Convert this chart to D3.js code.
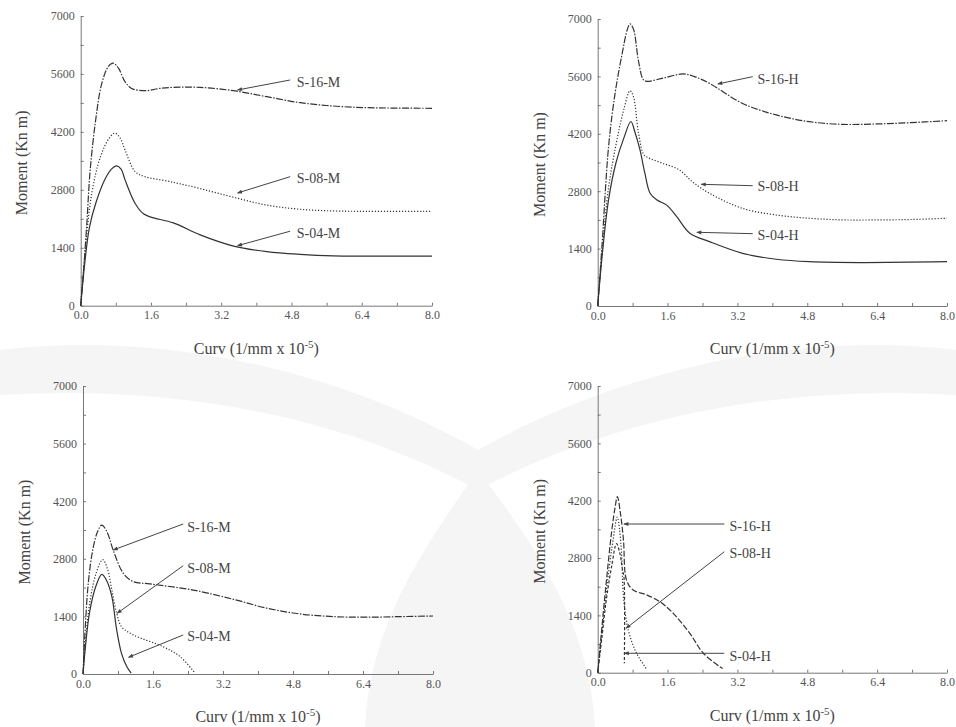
<!DOCTYPE html>
<html>
<head>
<meta charset="utf-8">
<script src="https://cdn.jsdelivr.net/npm/d3@7"></script>
<style>
  body { margin: 0; background: #fff; }
  svg { display: block; font-family: "Liberation Serif", "Times New Roman", serif; }
  .domain, .tick line { stroke: #777; }
</style>
</head>
<body>
<div id="chart"></div>
<script>
// axis ticks
const yTicks = [0, 1400, 2800, 4200, 5600, 7000];
const xTicks = [0, 1.6, 3.2, 4.8, 6.4, 8.0];

// top-left: medium, full range
const s16M_a = [[0,0],[0.06,780],[0.14,1990],[0.21,3200],[0.33,4400],[0.48,5370],[0.63,5780],[0.74,5860],[0.86,5740],[1.01,5410],[1.16,5250],[1.46,5195],[1.8,5250],[2.11,5275],[2.72,5275],[3.48,5195],[4.24,5050],[5.0,4905],[5.75,4825],[6.5,4785],[7.2,4775],[8.0,4770]];
const s08M_a = [[0,0],[0.1,1300],[0.25,2700],[0.45,3600],[0.65,4050],[0.78,4170],[0.9,4050],[1.01,3760],[1.24,3240],[1.46,3120],[2.03,3000],[2.72,2830],[3.48,2620],[4.24,2430],[5.0,2330],[5.75,2290],[6.5,2280],[8.0,2280]];
const s04M_a = [[0,0],[0.1,1100],[0.2,1900],[0.35,2500],[0.55,3050],[0.7,3300],[0.82,3380],[0.92,3300],[1.01,3040],[1.24,2470],[1.43,2220],[1.6,2140],[2.11,2000],[2.72,1710],[3.48,1440],[4.24,1305],[5.0,1240],[5.75,1205],[6.5,1200],[8.0,1200]];

// top-right: high, full range
const s16H_a = [[0,0],[0.1,1500],[0.25,3900],[0.4,5200],[0.55,6100],[0.68,6750],[0.74,6880],[0.82,6750],[0.93,6000],[1.04,5530],[1.12,5480],[1.5,5560],[1.95,5660],[2.2,5600],[2.56,5430],[3.32,4940],[4.09,4660],[4.85,4495],[5.61,4430],[6.38,4440],[7.14,4470],[8.0,4520]];
const s08H_a = [[0,0],[0.1,1300],[0.25,2900],[0.45,4100],[0.6,4800],[0.74,5250],[0.82,5100],[0.93,4250],[1.05,3700],[1.15,3620],[1.49,3480],[1.87,3320],[2.17,3030],[2.56,2750],[3.32,2380],[4.09,2220],[4.85,2140],[5.61,2100],[6.4,2100],[7.2,2110],[8.0,2140]];
const s04H_a = [[0,0],[0.1,1200],[0.25,2600],[0.42,3500],[0.6,4100],[0.76,4500],[0.85,4250],[0.97,3800],[1.08,3240],[1.2,2750],[1.35,2590],[1.58,2460],[1.81,2180],[2.11,1775],[2.56,1570],[3.32,1285],[4.09,1140],[4.85,1080],[6.0,1060],[8.0,1080]];

// bottom-left: medium, reduced
const s16M_b = [[0,0],[0.05,1100],[0.12,2200],[0.22,3000],[0.33,3450],[0.43,3620],[0.55,3450],[0.69,3010],[0.92,2450],[1.15,2245],[1.53,2190],[2.52,2040],[3.44,1815],[4.2,1600],[4.96,1460],[5.72,1395],[6.48,1380],[7.25,1395],[8.0,1410]];
const s08M_b = [[0,0],[0.05,700],[0.15,1700],[0.3,2450],[0.45,2780],[0.56,2550],[0.66,2040],[0.77,1475],[0.88,1150],[1.15,950],[1.84,660],[2.22,420],[2.54,50]];
const s04M_b = [[0,0],[0.05,600],[0.15,1500],[0.3,2150],[0.43,2420],[0.55,2250],[0.66,1880],[0.77,1070],[0.88,500],[1.0,180],[1.1,20]];

// bottom-right: high, reduced
const s16H_b = [[0,0],[0.1,1150],[0.2,2250],[0.32,3450],[0.4,4050],[0.45,4300],[0.52,3900],[0.59,3240],[0.66,2260],[0.81,2020],[1.12,1900],[1.43,1730],[1.73,1450],[2.11,960],[2.42,475],[2.86,100]];
const s08H_b = [[0,0],[0.1,1000],[0.2,2000],[0.32,3000],[0.45,3800],[0.5,3500],[0.55,2830],[0.59,1860],[0.7,1040],[0.89,475],[1.08,150],[1.11,100]];
const s04H_b = [[0,0],[0.1,900],[0.2,1800],[0.32,2600],[0.43,3150],[0.5,2950],[0.57,2500],[0.6,2350],[0.61,230]];

// label text anchor [x, M] and arrow from/to in data units
const labelsTL = [["S-16-M",[4.92,5412],[4.77,5454],[3.57,5212]],["S-08-M",[4.92,3078],[4.77,3118],[3.57,2723]],["S-04-M",[4.92,1757],[4.77,1800],[3.57,1450]]];
const labelsTR = [["S-16-H",[3.66,5529],[3.55,5593],[2.75,5415]],["S-08-H",[3.66,2927],[3.55,2934],[2.37,2968]],["S-04-H",[3.66,1732],[3.55,1764],[2.27,1798]]];
const labelsBL = [["S-16-M",[2.38,3580],[2.29,3646],[0.69,3014]],["S-08-M",[2.38,2576],[2.29,2632],[0.78,1475]],["S-04-M",[2.38,924],[2.29,948],[1.04,406]]];
const labelsBR = [["S-16-H",[3.02,3589],[2.9,3630],[0.6,3630]],["S-08-H",[3.02,2922],[2.9,2954],[0.65,1084]],["S-04-H",[3.02,415],[2.9,474],[0.61,474]]];

const W = 956, H = 727;
const FONT = "Liberation Serif, Times New Roman, serif";
const svg = d3.select("#chart").append("svg").attr("width", W).attr("height", H);

// faint background watermark
const wm = svg.append("g").attr("fill", "#f5f5f5");
wm.append("path").attr("d", "M0,350 C160,330 340,370 478,450 C620,370 800,330 956,350 L956,395 C800,385 630,410 478,490 C330,410 160,385 0,395 Z");
wm.append("path").attr("d", "M478,470 C430,540 370,620 365,727 L595,727 C590,620 530,540 478,470 Z");

svg.append("defs").append("marker")
  .attr("id", "arr").attr("viewBox", "0 0 10 10")
  .attr("refX", 9).attr("refY", 5)
  .attr("markerWidth", 7).attr("markerHeight", 5)
  .attr("orient", "auto")
  .append("path").attr("d", "M0,1 L10,5 L0,9 Z").attr("fill", "#444");

function panel(box, series, dashes, labels) {
  const x = d3.scaleLinear().domain([0, 8]).range([box.x0, box.x1]);
  const y = d3.scaleLinear().domain([0, 7000]).range([box.y1, box.y0]);
  const g = svg.append("g");

  const yMinor = d3.range(0, 7001, 700);
  g.append("g")
    .attr("transform", `translate(${box.x0},0)`)
    .call(d3.axisLeft(y).tickValues(yMinor).tickSize(-3).tickSizeOuter(0).tickPadding(6)
      .tickFormat(d => yTicks.includes(d) ? d : ""))
    .attr("font-family", FONT).attr("font-size", 12)
    .selectAll("text").attr("fill", "#555");

  const xMinor = d3.range(0, 11).map(i => i * 0.8);
  g.append("g")
    .attr("transform", `translate(0,${box.y1})`)
    .call(d3.axisBottom(x).tickValues(xMinor).tickSize(-3).tickSizeOuter(0).tickPadding(5)
      .tickFormat(d => xTicks.some(t => Math.abs(t - d) < 1e-6) ? d3.format(".1f")(d) : ""))
    .attr("font-family", FONT).attr("font-size", 12)
    .selectAll("text").attr("fill", "#555");

  const smooth = d3.line().x(d => x(d[0])).y(d => y(d[1])).curve(d3.curveCatmullRom.alpha(0.5));
  series.forEach((s, i) => {
    g.append("path").datum(s)
      .attr("d", smooth)
      .attr("fill", "none")
      .attr("stroke", "#333")
      .attr("stroke-width", 1.2)
      .attr("stroke-dasharray", dashes[i]);
  });

  labels.forEach(l => {
    g.append("line")
      .attr("x1", x(l[2][0])).attr("y1", y(l[2][1]))
      .attr("x2", x(l[3][0])).attr("y2", y(l[3][1]))
      .attr("stroke", "#444").attr("stroke-width", 1)
      .attr("marker-end", "url(#arr)");
    g.append("text")
      .attr("x", x(l[1][0])).attr("y", y(l[1][1]))
      .attr("dy", "0.35em")
      .attr("font-size", 14).attr("fill", "#444")
      .text(l[0]);
  });

  g.append("text")
    .attr("transform", `translate(${box.yt},${(box.y0 + box.y1) / 2 + 2}) rotate(-90)`)
    .attr("text-anchor", "middle").attr("dy", "0.35em")
    .attr("font-size", 16).attr("fill", "#444")
    .text("Moment (Kn m)");

  const xt = g.append("text")
    .attr("x", (box.x0 + box.x1) / 2).attr("y", box.xt)
    .attr("text-anchor", "middle")
    .attr("font-size", 16).attr("fill", "#444");
  xt.append("tspan").text("Curv (1/mm x 10");
  xt.append("tspan").attr("dy", -6).attr("font-size", 11).text("-5");
  xt.append("tspan").attr("dy", 6).text(")");
}

const topDash = ["7,1.5,1.5,1.5", "1.2,1.8", null];
panel({ x0: 80.7, x1: 432, y0: 16, y1: 305.7, yt: 21, xt: 354 }, [s16M_a, s08M_a, s04M_a], topDash, labelsTL);
panel({ x0: 597.7, x1: 947, y0: 19, y1: 306, yt: 539, xt: 354 }, [s16H_a, s08H_a, s04H_a], topDash, labelsTR);
panel({ x0: 83, x1: 433, y0: 386, y1: 674, yt: 24, xt: 722 }, [s16M_b, s08M_b, s04M_b], topDash, labelsBL);
panel({ x0: 597.7, x1: 947, y0: 386, y1: 672.7, yt: 539, xt: 721 }, [s16H_b, s08H_b, s04H_b],
  ["6,2", "1.2,1.8", "3,2"], labelsBR);
</script>
</body>
</html>
